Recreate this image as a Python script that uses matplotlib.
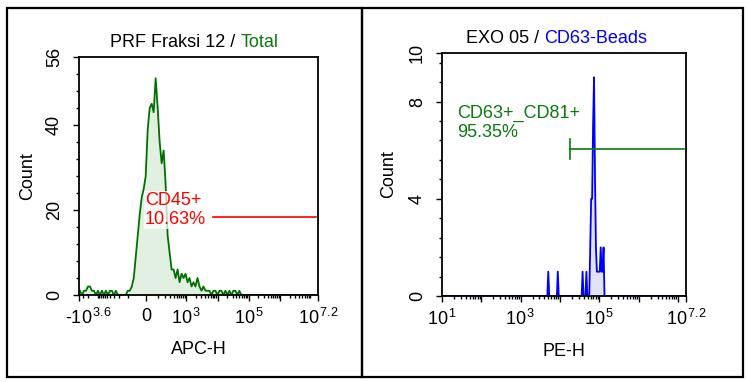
import numpy as np
import matplotlib
matplotlib.use("Agg")
import matplotlib.pyplot as plt
from matplotlib.patches import Rectangle
from matplotlib.ticker import FixedLocator, MultipleLocator
from matplotlib.transforms import ScaledTranslation

plt.rcParams['font.family'] = ['Liberation Sans', 'DejaVu Sans']
plt.rcParams['mathtext.fontset'] = 'custom'
plt.rcParams['mathtext.rm'] = 'Liberation Sans'
plt.rcParams['mathtext.it'] = 'Liberation Sans:italic'

# ---- left panel: APC-H histogram (120 channels, evenly spaced on the biex axis)
apc_nbins = 120
apc_lim = (-10 ** 3.6, 10 ** 7.2)
apc_counts = [1, 0, 1, 1, 2, 2, 1, 1, 0, 1, 0, 1, 0, 1, 0, 1, 1, 0, 1, 0,
              0, 0, 0, 0, 1, 1, 2, 4, 9, 14, 19, 23, 25, 28, 39, 44, 45, 43, 51, 44,
              36, 31, 34, 26, 14, 10, 6, 6, 4, 6, 3, 5, 4, 5, 3, 4, 2, 3, 2, 4,
              2, 1, 2, 1, 1, 1, 0, 1, 1, 0, 1, 1, 0, 1, 0, 1, 0, 1, 1, 0, 1, 0]
apc_gate = (7.2e3, 1.4e7)
apc_gate_y = 18.3
apc_gate_text = "CD45+\n10.63%"

# ---- right panel: PE-H histogram (256 channels over 10^1 .. 10^7.2)
pe_nbins = 256
pe_log_lim = (1.0, 7.2)
pe_bins = [111, 121, 147, 151, 155, 156, 157, 158, 159, 160, 161, 162, 163, 164, 165, 166, 167, 168, 169]
pe_counts = [1, 1, 1, 1, 2, 4, 4, 7, 9, 5, 2, 1, 1, 1, 1, 2, 1, 1, 2]
pe_gate = (10 ** 4.25, 10 ** 7.14)
pe_gate_y = 6.05
pe_gate_text = "CD63+_CD81+\n95.35%"

GREEN = '#0a7a0a'
LINE_GREEN = '#007000'
BLUE = '#0000ff'
FS = 13

W_NEG, W_POS = 58.7, 105.0


def biex(x):
    x = np.asarray(x, float)
    return np.where(x < 0, np.arcsinh(x / W_NEG), np.arcsinh(x / W_POS))


def biex_inv(y):
    y = np.clip(np.asarray(y, float), -30, 30)
    return np.where(y < 0, W_NEG * np.sinh(y), W_POS * np.sinh(y))


def sup(base, exp):
    return r'$\mathregular{%s^{\,%s}}$' % (base, exp)


fig = plt.figure(figsize=(7.48, 3.82), dpi=100)
W, H = 748.0, 382.0


def px_axes(l, t, r, b):
    return fig.add_axes([l / W, 1 - b / H, (r - l) / W, (b - t) / H])


# panel borders
for x0, x1 in [(7, 362), (362, 743)]:
    fig.add_artist(Rectangle((x0 / W, 1 - 377 / H), (x1 - x0) / W, 369 / H,
                             transform=fig.transFigure, fill=False, lw=1.6, ec='black'))

ax1 = px_axes(79, 57, 318, 295)
ax2 = px_axes(442, 53, 686, 296)

for ax in (ax1, ax2):
    for s in ax.spines.values():
        s.set_linewidth(1.3)
    ax.tick_params(which='both', direction='out', width=1.0, labelsize=FS, top=False, right=False)
    ax.tick_params(which='major', length=4.5)
    ax.tick_params(which='minor', length=2.2)
    ax.tick_params(axis='x', pad=5)
    ax.tick_params(axis='y', pad=7)

# ---- left panel
ax1.set_xscale('function', functions=(biex, biex_inv))
lo, hi = biex(apc_lim[0]), biex(apc_lim[1])
centers = lo + (np.arange(apc_nbins) + 0.5) * (hi - lo) / apc_nbins
apc_x = biex_inv(centers)
apc_y = np.zeros(apc_nbins)
apc_y[:len(apc_counts)] = apc_counts
ax1.fill_between(apc_x, apc_y, color='#e2f0e2', lw=0, zorder=1)
ax1.plot(apc_x, apc_y, color=LINE_GREEN, lw=1.3, zorder=2)
ax1.plot(apc_gate, [apc_gate_y, apc_gate_y], color='#ff0000', lw=1.2, zorder=2)
ax1.set_xlim(*apc_lim)
ax1.set_ylim(0, 56)

ax1.xaxis.set_major_locator(FixedLocator([apc_lim[0], 0, 1e3, 1e4, 1e5, 1e6, apc_lim[1]]))
ax1.set_xticklabels(['-' + sup('10', '3.6'), '0', sup('10', '3'), '',
                     sup('10', '5'), '', sup('10', '7.2')])
apc_minor = [-3000, -2000, -1000] + [-k * 100 for k in range(1, 10)] + [k * 100 for k in range(1, 10)]
for d in range(3, 7):
    apc_minor += [k * 10 ** d for k in range(2, 10) if k * 10 ** d < apc_lim[1]]
ax1.xaxis.set_minor_locator(FixedLocator(apc_minor))
ax1.set_yticks([0, 20, 40, 56])
ax1.set_yticklabels(['0', '20', '40', '56'], rotation=90, va='center')
ax1.yaxis.set_minor_locator(MultipleLocator(4))

# the negative end label sits a bit to the right of its tick in the original
first = ax1.get_xticklabels()[0]
first.set_transform(first.get_transform() + ScaledTranslation(7 / 72, 0, fig.dpi_scale_trans))

ax1.set_xlabel('APC-H', fontsize=FS)
ax1.set_ylabel('Count', fontsize=FS)
ax1.xaxis.set_label_coords(0.5, -(349 - 295) / 238)
ax1.xaxis.label.set_va('center')
ax1.yaxis.set_label_coords((28 - 79) / 239, 0.5)
ax1.yaxis.label.set_va('center')

ax1.text(145 / W, 1 - 210 / H, apc_gate_text, transform=fig.transFigure, color='#ff0000',
         fontsize=FS, ha='left', va='center', linespacing=1.15, zorder=5,
         bbox=dict(boxstyle='square,pad=0.05', fc='white', ec='none', alpha=0.75))

# ---- right panel
ax2.set_xscale('log')
edges = np.linspace(pe_log_lim[0], pe_log_lim[1], pe_nbins + 1)
pe_x = 10 ** ((edges[:-1] + edges[1:]) / 2)
pe_y = np.zeros(pe_nbins)
pe_y[pe_bins] = pe_counts
ax2.fill_between(pe_x, pe_y, color='#e2e2f8', lw=0, zorder=1)
ax2.plot(pe_x, pe_y, color=BLUE, lw=1.3, zorder=2)
ax2.plot(pe_gate, [pe_gate_y, pe_gate_y], color=GREEN, lw=1.2, zorder=3)
ax2.plot([pe_gate[0], pe_gate[0]], [pe_gate_y - 0.4, pe_gate_y + 0.4], color=GREEN, lw=1.2, zorder=3)
ax2.set_xlim(10 ** pe_log_lim[0], 10 ** pe_log_lim[1])
ax2.set_ylim(0, 10)

ax2.xaxis.set_major_locator(FixedLocator([10 ** d for d in range(1, 8)] + [10 ** 7.2]))
ax2.set_xticklabels([sup('10', '1'), '', sup('10', '3'), '',
                     sup('10', '5'), '', '', sup('10', '7.2')])
pe_minor = [k * 10 ** d for d in range(1, 8) for k in range(2, 10) if k * 10 ** d < 10 ** 7.2]
ax2.xaxis.set_minor_locator(FixedLocator(pe_minor))
ax2.set_yticks([0, 4, 8, 10])
ax2.set_yticklabels(['0', '4', '8', '10'], rotation=90, va='center')
ax2.yaxis.set_minor_locator(MultipleLocator(0.8))

ax2.set_xlabel('PE-H', fontsize=FS)
ax2.set_ylabel('Count', fontsize=FS)
ax2.xaxis.set_label_coords(0.5, -(352 - 296) / 243)
ax2.xaxis.label.set_va('center')
ax2.yaxis.set_label_coords((389 - 442) / 244, 0.5)
ax2.yaxis.label.set_va('center')

ax2.text(457 / W, 1 - 123 / H, pe_gate_text, transform=fig.transFigure, color=GREEN,
         fontsize=FS, ha='left', va='center', linespacing=1.15, zorder=5)

# ---- two-colour titles
t1 = fig.text(110 / W, 1 - 47 / H, 'PRF Fraksi 12 / ', fontsize=FS, color='black', va='baseline')
ax1.annotate('Total', xy=(1, 0), xycoords=t1, fontsize=FS, color=GREEN, va='bottom', ha='left',
             annotation_clip=False)

t2 = fig.text(466 / W, 1 - 43 / H, 'EXO 05 / ', fontsize=FS, color='black', va='baseline')
ax2.annotate('CD63-Beads', xy=(1, 0), xycoords=t2, fontsize=FS, color=BLUE, va='bottom', ha='left',
             annotation_clip=False)

fig.savefig('out.png', dpi=100, facecolor='white')
